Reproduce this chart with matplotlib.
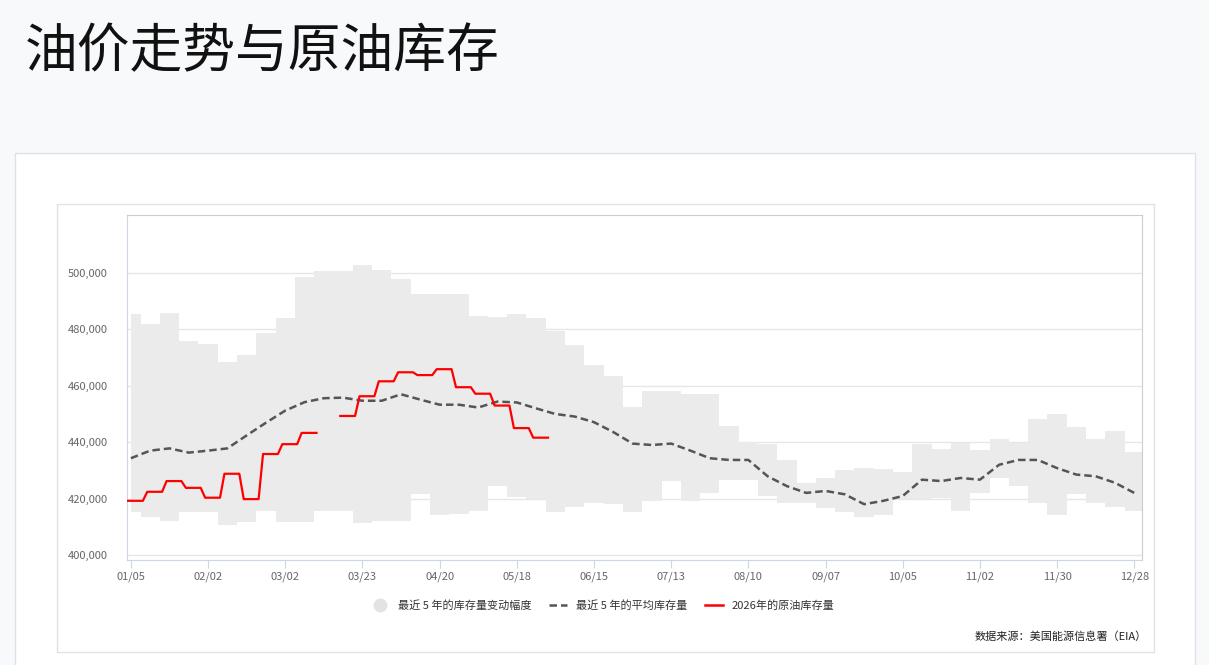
import matplotlib
matplotlib.use("Agg")
import matplotlib.pyplot as plt
from matplotlib.patches import Rectangle
from matplotlib.lines import Line2D
import numpy as np

plt.rcParams['font.family'] = ['Noto Sans CJK SC', 'DejaVu Sans']

tick_labels = ["01/05","02/02","03/02","03/23","04/20","05/18","06/15","07/13",
               "08/10","09/07","10/05","11/02","11/30","12/28"]
upper = [485.5,482,486,476,475,468.5,471,478.7,484,498.5,500.7,500.7,502.8,501,498,492.5,
         492.5,492.5,484.8,484.5,485.5,484,479.4,474.4,467.4,463.6,452.6,458.1,458,457.2,
         457,445.7,440,439.5,433.7,425.6,427.3,430,430.8,430.5,429.3,439.3,437.6,439.8,
         437.2,441,439.8,448.3,450,445.3,441,444,436.6,431.4]
lower = [415.1,413.4,411.9,415.1,415.1,410.5,411.6,415.7,411.6,411.6,415.7,415.7,411.5,412.2,
         412.2,421.5,414,414.5,415.7,424.4,420.7,419.8,415.1,416.9,418.6,418,415.1,419.2,
         426.2,419.2,422,426.7,426.7,421,418.6,418.6,416.6,415.1,413.4,414.2,419.8,419.8,
         420.3,415.7,422,427.3,424.4,418.6,414,421.5,418.6,416.9,415.7,415.7]
mean5 = [434.3,437,437.8,436.3,437,437.8,442.4,446.9,451.2,454.2,455.6,455.8,454.7,454.7,
         457,455.1,453.3,453.3,452.3,454.4,454.1,452,450,449.1,447.1,443.6,439.5,439,439.5,
         437,434.3,433.7,433.7,427.9,424.4,422,422.7,421.5,418,419.2,420.9,426.7,426.2,
         427.3,426.7,432,433.7,433.7,430.8,428.5,427.9,425.6,422]
red_a = [419.2,422.4,426.2,423.8,420.3,428.8,419.8,435.8,439.3,443.3]   # weeks 0-9
red_b = [449.3,456.3,461.6,464.8,463.8,465.9,459.5,457.2,453,445,441.6]  # weeks 11-21

fig = plt.figure(figsize=(12.09, 6.65), dpi=100)
fig.patch.set_facecolor('#f8f9fb')
W, H = 1209, 665
def fx(px): return px / W
def fy(py): return 1 - py / H

fig.text(fx(25), fy(52), "油价走势与原油库存", fontsize=38, va='center', ha='left', color='#111')
fig.patches.append(Rectangle((fx(15), fy(670)), fx(1195) - fx(15), fy(153) - fy(670),
                             transform=fig.transFigure, facecolor='white', edgecolor='#dde2ea',
                             lw=1, zorder=-2))
fig.patches.append(Rectangle((fx(57), fy(652)), fx(1154) - fx(57), fy(204) - fy(652),
                             transform=fig.transFigure, facecolor='white', edgecolor='#dde2ea',
                             lw=1, zorder=-1))

ax = fig.add_axes([fx(127), fy(560), fx(1142) - fx(127), fy(215) - fy(560)])
ax.set_facecolor('white')

xb = np.arange(len(upper))
ax.fill_between(xb, np.array(lower) * 1000, np.array(upper) * 1000, step='mid',
                color='#ebebeb', lw=0, zorder=1)
xm = np.arange(len(mean5))
ax.plot(xm, np.array(mean5) * 1000, color='#555555', lw=1.8, ls=(0, (3, 1.6)), zorder=3)

def stepline(start, vals):
    xs, ys = [], []
    for i, v in enumerate(vals):
        w = start + i
        xs += [w - 0.15, w + 0.62]
        ys += [v * 1000, v * 1000]
    return xs, ys
for s, vals in [(0, red_a), (11, red_b)]:
    xs, ys = stepline(s, vals)
    if s == 0:
        xs[0] = -0.2
    ax.plot(xs, ys, color='#ff0000', lw=1.6, zorder=4)

ax.set_xlim(-0.2, 52.4)
ax.set_ylim(398200, 520600)
ax.set_yticks(np.arange(400000, 500001, 20000))
ax.set_yticklabels([f"{v:,}" for v in range(400000, 500001, 20000)])
ax.set_xticks(np.arange(0, 53, 4))
ax.set_xticklabels(tick_labels)
ax.grid(axis='y', color='#e6e6e6', lw=1, zorder=0)
ax.set_axisbelow(True)
ax.tick_params(axis='y', length=0, labelsize=8, labelcolor='#666666', pad=14)
ax.tick_params(axis='x', length=6, color='#ccd6eb', labelsize=8, labelcolor='#666666', pad=2)
for s in ax.spines.values():
    s.set_color('#cccccc'); s.set_linewidth(0.8)
ax.spines['bottom'].set_color('#ccd6eb')
ax.spines['left'].set_color('#ccd6eb')

handles = [Line2D([], [], marker='o', ls='none', color='#e3e3e3', markersize=9),
           Line2D([], [], color='#555555', lw=1.8, ls=(0, (3, 1.6))),
           Line2D([], [], color='#ff0000', lw=1.8)]
labels = ["最近 5 年的库存量变动幅度", "最近 5 年的平均库存量", "2026年的原油库存量"]
fig.legend(handles, labels, loc='center', bbox_to_anchor=(fx(603), fy(606)), ncol=3,
           frameon=False, fontsize=8, handlelength=1.6, columnspacing=1.6, labelcolor='#333333')
fig.text(fx(1147), fy(637), "数据来源：美国能源信息署（EIA）", fontsize=8, ha='right', va='center', color='#222')

fig.savefig("out.png", dpi=100, facecolor=fig.get_facecolor())
